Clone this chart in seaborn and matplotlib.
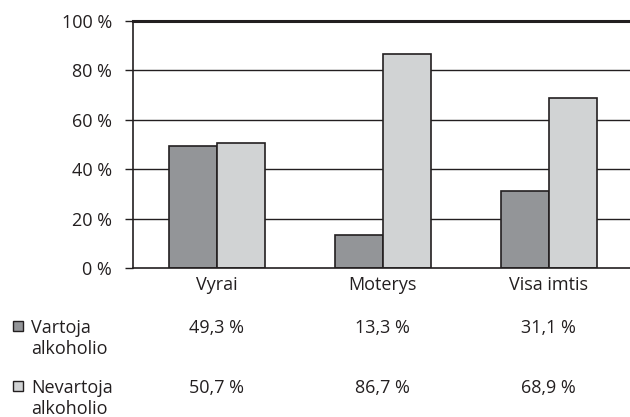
import matplotlib
matplotlib.use("Agg")
import matplotlib.pyplot as plt
import matplotlib.transforms as mtransforms
from matplotlib.patches import Rectangle
import seaborn as sns
import pandas as pd

# data
groups = ["Vyrai", "Moterys", "Visa imtis"]
series = ["Vartoja alkoholio", "Nevartoja alkoholio"]
vartoja = [49.3, 13.3, 31.1]
nevartoja = [50.7, 86.7, 68.9]
yticks = [0, 20, 40, 60, 80, 100]

dark = "#939598"
light = "#d1d3d4"
ink = "#231f20"

df = pd.DataFrame({
    "grupe": groups * 2,
    "serija": [series[0]] * 3 + [series[1]] * 3,
    "proc": vartoja + nevartoja,
})

sns.set_style("white")
plt.rcParams["font.family"] = ["Open Sans", "DejaVu Sans"]
fs = 13

fig = plt.figure(figsize=(6.3, 4.17), dpi=100)
ax = fig.add_axes([133 / 630, 1 - 268 / 417, 1 - 133 / 630, (268 - 21) / 417])

sns.barplot(data=df, x="grupe", y="proc", hue="serija", order=groups,
            hue_order=series, palette=[dark, light], width=0.58,
            edgecolor=ink, linewidth=1.2, saturation=1, legend=False, ax=ax)

ax.set_xlim(-0.505, 2.49)
ax.set_ylim(0, 100)
ax.set_yticks(yticks)
ax.set_yticklabels([f"{t} %" for t in yticks], fontsize=fs, color=ink)
ax.set_xticks(range(len(groups)))
ax.set_xticklabels(groups, fontsize=fs, color=ink)
ax.tick_params(axis="y", length=6, width=1, color=ink, pad=9, left=True)
ax.tick_params(axis="x", length=0, pad=6)
ax.set_xlabel("")
ax.set_ylabel("")

for t in yticks[1:-1]:
    ax.axhline(t, color=ink, linewidth=1, zorder=0)
ax.set_axisbelow(True)

for side in ["left", "bottom"]:
    ax.spines[side].set_color(ink)
    ax.spines[side].set_linewidth(1.2)
ax.spines["top"].set_color(ink)
ax.spines["top"].set_linewidth(2.2)
ax.spines["right"].set_visible(False)

# data table below the chart
trans = mtransforms.blended_transform_factory(ax.transData, fig.transFigure)
rows = [vartoja, nevartoja]
colors = [dark, light]
baselines = [333, 393]
for vals, lab, col, base in zip(rows, series, colors, baselines):
    yb = 1 - base / 417
    for i, v in enumerate(vals):
        ax.text(i, yb, f"{v:.1f} %".replace(".", ","), transform=trans,
                ha="center", va="baseline", fontsize=fs, color=ink)
    first, second = lab.split(" ")
    fig.text(31 / 630, yb, first, ha="left", va="baseline", fontsize=fs, color=ink)
    fig.text(31 / 630, 1 - (base + 21) / 417, second, ha="left", va="baseline",
             fontsize=fs, color=ink)
    fig.patches.append(Rectangle((13 / 630, 1 - (base - 2) / 417), 10 / 630,
                                 10 / 417, transform=fig.transFigure,
                                 facecolor=col, edgecolor=ink, linewidth=1))

fig.savefig("out.png", dpi=100)
